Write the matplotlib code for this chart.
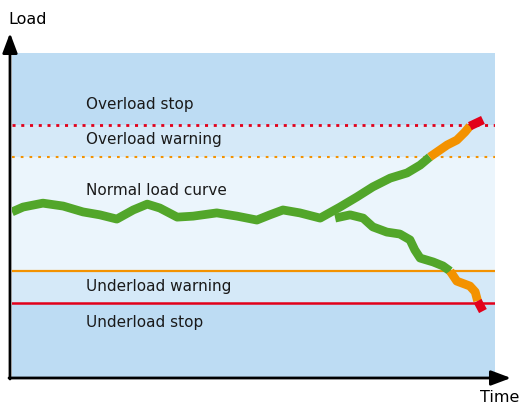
import matplotlib.pyplot as plt

# load levels (percent of full scale)
levels = {"overload_stop": 77.8, "overload_warning": 68.0,
          "underload_warning": 32.9, "underload_stop": 23.1}

# normal load curve rising into overload (time %, load %)
main_t = [0.0, 2.3, 6.4, 10.6, 14.7, 18.2, 21.7, 25.1, 28.0, 30.6, 34.2,
          37.5, 42.4, 46.6, 50.7, 53.4, 56.1, 59.6, 63.8, 67.9, 71.4,
          74.7, 78.3, 81.8, 84.5, 86.5]
main_l = [51.1, 52.6, 53.8, 52.9, 51.1, 50.2, 48.9, 51.7, 53.5, 52.3, 49.5,
          49.8, 50.8, 49.8, 48.6, 50.2, 51.7, 50.8, 49.2, 52.6, 55.7,
          58.8, 61.5, 63.1, 65.5, 68.0]
up_o_t = [86.5, 90.1, 92.1, 93.8, 94.8]
up_o_l = [68.0, 71.7, 73.2, 75.7, 77.5]
up_r_t = [94.8, 97.5]
up_r_l = [77.5, 79.4]

# branch falling towards underload
low_t = [66.9, 70.0, 72.7, 74.7, 77.6, 80.3, 82.4, 83.4, 84.5, 87.2, 89.2, 90.7]
low_l = [49.2, 50.2, 49.2, 46.5, 44.9, 44.3, 42.5, 39.4, 36.9, 35.7, 34.5, 32.9]
low_o_t = [90.7, 92.1, 94.8, 95.9, 96.4]
low_o_l = [32.9, 29.8, 28.3, 26.5, 23.7]
low_r_t = [96.4, 97.5]
low_r_l = [23.7, 20.6]

green = "#52a62a"
orange = "#f39200"
red = "#e2001a"


def main():
    fig = plt.figure(figsize=(5.2, 4.05), dpi=100)
    ax = fig.add_axes([12 / 520, 27 / 405, 483 / 520, 325 / 405])
    ax.set_xlim(0, 100)
    ax.set_ylim(0, 100)
    ax.axis("off")

    # bands
    ax.axhspan(0, levels["underload_stop"], color="#bddcf3", lw=0)
    ax.axhspan(levels["underload_stop"], levels["underload_warning"], color="#d5e9f8", lw=0)
    ax.axhspan(levels["underload_warning"], levels["overload_warning"], color="#ebf5fc", lw=0)
    ax.axhspan(levels["overload_warning"], levels["overload_stop"], color="#d5e9f8", lw=0)
    ax.axhspan(levels["overload_stop"], 100, color="#bddcf3", lw=0)

    # limit lines
    ax.axhline(levels["overload_stop"], color=red, lw=2, ls=(0, (1.1, 2.05)))
    ax.axhline(levels["overload_warning"], color=orange, lw=1.5, ls=(0, (1.3, 2.9)))
    ax.axhline(levels["underload_warning"], color=orange, lw=1.6)
    ax.axhline(levels["underload_stop"], color=red, lw=1.8)

    kw = dict(lw=6.3, solid_capstyle="butt", solid_joinstyle="round")
    ax.plot(main_t, main_l, color=green, **kw)
    ax.plot(up_o_t, up_o_l, color=orange, **kw)
    ax.plot(up_r_t, up_r_l, color=red, **kw)
    ax.plot(low_t, low_l, color=green, **kw)
    ax.plot(low_o_t, low_o_l, color=orange, **kw)
    ax.plot(low_r_t, low_r_l, color=red, **kw)

    # texts
    tkw = dict(fontsize=11, va="center", ha="left", color="#1a1a1a")
    ax.text(15.3, 84.3, "Overload stop", **tkw)
    ax.text(15.3, 73.5, "Overload warning", **tkw)
    ax.text(15.3, 57.8, "Normal load curve", **tkw)
    ax.text(15.3, 28.3, "Underload warning", **tkw)
    ax.text(15.3, 17.2, "Underload stop", **tkw)

    # axes arrows in figure pixels
    fx = lambda px: px / 520
    fy = lambda py: 1 - py / 405
    arrow = dict(arrowstyle="-|>,head_length=1.2,head_width=0.45", color="black", lw=2,
                 shrinkA=0, shrinkB=0)
    ax.annotate("", xy=(fx(10), fy(33)), xytext=(fx(10), fy(379)),
                xycoords="figure fraction", textcoords="figure fraction", arrowprops=arrow)
    ax.annotate("", xy=(fx(511), fy(378)), xytext=(fx(9), fy(378)),
                xycoords="figure fraction", textcoords="figure fraction", arrowprops=arrow)
    fig.text(fx(8), fy(20), "Load", fontsize=11.5, va="center", ha="left")
    fig.text(fx(519), fy(398), "Time", fontsize=11.5, va="center", ha="right")

    fig.savefig("out.png", dpi=100)


if __name__ == "__main__":
    main()
